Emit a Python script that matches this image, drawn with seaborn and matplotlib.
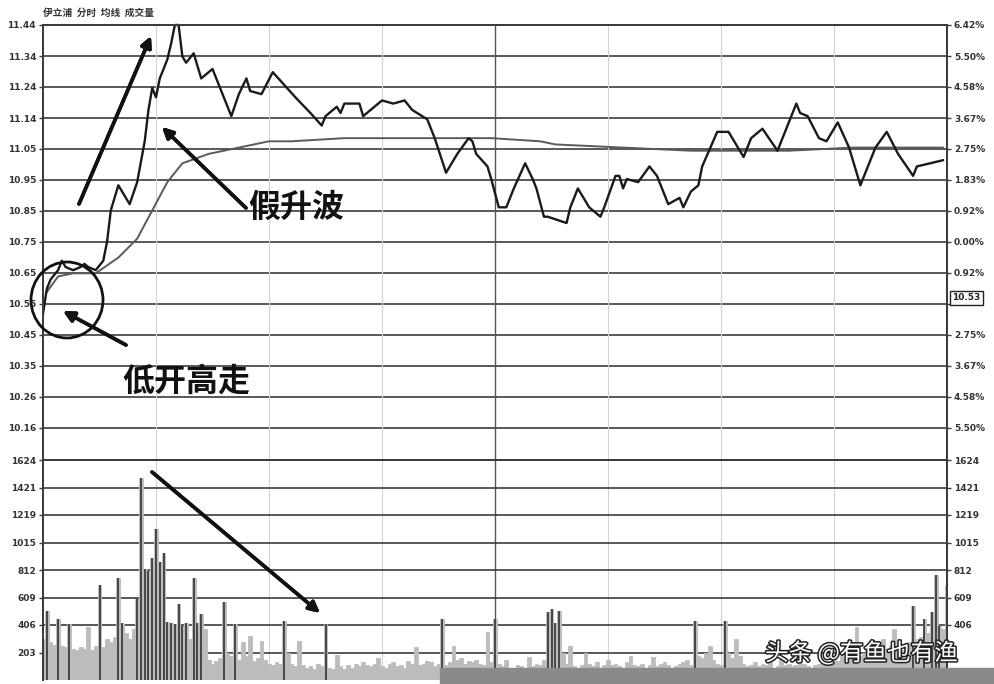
import matplotlib.pyplot as plt
import matplotlib.patheffects as pe
from matplotlib.patches import Ellipse, Rectangle
import numpy as np
import seaborn as sns

""" Data read off the intraday chart """
price_minutes = [0, 1, 2, 4, 5, 6, 8, 10, 11, 12, 14, 16, 17, 18, 20, 23, 25, 27, 28, 29,
                 30, 31, 33, 34, 35, 36, 37, 38, 40, 41, 42, 45, 47, 50, 52, 54, 55, 58, 61, 64,
                 67, 71, 74, 75, 78, 79, 80, 84, 85, 88, 90, 93, 96, 98, 102, 104, 107, 110, 113, 114,
                 115, 118, 119, 121, 123, 125, 128, 130, 131, 133, 134, 139, 140, 142, 145, 148, 149, 152, 153, 154,
                 155, 158, 161, 163, 166, 169, 170, 172, 174, 175, 179, 182, 186, 188, 191, 195, 200, 201, 203, 206,
                 208, 211, 214, 217, 219, 221, 224, 227, 231, 232, 239]
price_values = [10.52, 10.60, 10.63, 10.66, 10.69, 10.67, 10.66, 10.67, 10.68, 10.67,
                10.66, 10.69, 10.75, 10.85, 10.93, 10.87, 10.94, 11.07, 11.17, 11.24,
                11.21, 11.27, 11.33, 11.38, 11.44, 11.44, 11.34, 11.32, 11.35, 11.31,
                11.27, 11.30, 11.24, 11.15, 11.22, 11.27, 11.23, 11.22, 11.29, 11.25,
                11.21, 11.16, 11.12, 11.15, 11.18, 11.16, 11.19, 11.19, 11.15, 11.18,
                11.20, 11.19, 11.20, 11.17, 11.14, 11.08, 10.97, 11.03, 11.08, 11.07,
                11.03, 10.99, 10.95, 10.86, 10.86, 10.92, 11.00, 10.95, 10.92, 10.83,
                10.83, 10.81, 10.86, 10.92, 10.86, 10.83, 10.86, 10.96, 10.96, 10.92,
                10.95, 10.94, 10.99, 10.96, 10.87, 10.89, 10.86, 10.91, 10.93, 10.99,
                11.10, 11.10, 11.02, 11.08, 11.11, 11.04, 11.19, 11.16, 11.15, 11.08,
                11.07, 11.13, 11.05, 10.93, 10.99, 11.05, 11.10, 11.03, 10.96, 10.99,
                11.01]

avg_minutes = [1, 4, 8, 14, 20, 25, 29, 33, 37, 44, 52, 60, 66, 80, 93, 107, 119, 132, 136,
               154, 172, 198, 215, 224, 239]
avg_values = [10.59, 10.64, 10.65, 10.65, 10.70, 10.76, 10.85, 10.94, 11.00, 11.03, 11.05,
              11.07, 11.07, 11.08, 11.08, 11.08, 11.08, 11.07, 11.06, 11.05, 11.04, 11.04,
              11.05, 11.05, 11.05]

volume = [300, 511, 280, 260, 451, 250, 240, 414, 230, 220,
          240, 230, 390, 220, 250, 700, 240, 300, 280, 320,
          752, 420, 350, 300, 380, 600, 1489, 820, 805, 900,
          1113, 870, 940, 430, 420, 410, 564, 400, 420, 300,
          752, 420, 489, 380, 150, 120, 140, 160, 579, 200,
          180, 414, 150, 278, 180, 323, 140, 160, 286, 150,
          120, 110, 130, 120, 436, 203, 120, 100, 286, 110,
          90, 100, 80, 120, 100, 414, 90, 80, 188, 100,
          80, 110, 90, 120, 100, 130, 110, 100, 120, 165,
          100, 90, 120, 130, 100, 110, 90, 140, 120, 240,
          110, 120, 140, 130, 100, 120, 451, 110, 130, 248,
          150, 160, 120, 140, 130, 150, 120, 110, 353, 130,
          451, 120, 100, 150, 90, 80, 110, 100, 90, 170,
          100, 120, 110, 150, 500, 526, 420, 510, 200, 120,
          250, 100, 90, 110, 200, 120, 100, 130, 90, 110,
          150, 110, 120, 100, 90, 130, 180, 110, 100, 120,
          90, 110, 170, 100, 120, 130, 110, 90, 100, 120,
          130, 150, 110, 436, 180, 160, 200, 250, 150, 120,
          110, 436, 200, 160, 300, 180, 120, 100, 110, 130,
          100, 120, 110, 130, 90, 100, 160, 110, 120, 100,
          110, 130, 120, 100, 90, 110, 120, 140, 130, 120,
          150, 140, 180, 160, 200, 220, 390, 180, 200, 170,
          190, 210, 200, 300, 220, 250, 376, 240, 220, 260,
          280, 549, 300, 320, 451, 350, 504, 775, 400, 380, 700]

price_ticks = [11.440, 11.341, 11.243, 11.144, 11.046, 10.947, 10.849, 10.750,
               10.651, 10.553, 10.454, 10.356, 10.257, 10.158]
price_labels = ["11.44", "11.34", "11.24", "11.14", "11.05", "10.95", "10.85", "10.75",
                "10.65", "10.55", "10.45", "10.35", "10.26", "10.16"]
pct_labels = ["6.42%", "5.50%", "4.58%", "3.67%", "2.75%", "1.83%", "0.92%", "0.00%",
              "0.92%", "", "2.75%", "3.67%", "4.58%", "5.50%"]
vol_ticks = [1624, 1421, 1218, 1015, 812, 609, 406, 203]
vol_labels = ["1624", "1421", "1219", "1015", "812", "609", "406", "203"]

title_text = "伊立浦  分时  均线  成交量"
note_fake = "假升波"
note_open = "低开高走"
watermark = "头条 @有鱼也有渔"
last_box = "10.53"

""" Style """
sns.set_theme(style="white")
plt.rcParams["font.family"] = ["Noto Sans CJK SC", "DejaVu Sans"]
W, H = 994, 684
ink = "#1a1a1a"
grid_color = "#3c3c3c"
tick_font = {"family": "DejaVu Sans", "size": 6.5, "weight": "bold", "color": "#333333"}

fig = plt.figure(figsize=(W / 100, H / 100), dpi=100)
fig.patch.set_facecolor("white")
left, right = 43 / W, 947 / W
ax_p = fig.add_axes([left, 1 - 460 / H, right - left, (460 - 25) / H])
ax_v = fig.add_axes([left, 1 - 680 / H, right - left, (680 - 460) / H])

# Price panel
ax_p.set_xlim(0, 240)
ax_p.set_ylim(10.056, 11.44)
for t in price_ticks:
    ax_p.axhline(t, color=grid_color, lw=1.2, zorder=1)
for m in [30, 60, 90, 150, 180, 210]:
    ax_p.axvline(m, color="#d2d2d2", lw=0.8, zorder=1)
    ax_v.axvline(m, color="#d2d2d2", lw=0.8, zorder=1)
ax_p.axvline(120, color="#555555", lw=1.0, zorder=1)
ax_v.axvline(120, color="#555555", lw=1.0, zorder=1)

sns.lineplot(x=avg_minutes, y=avg_values, ax=ax_p, color="#5a5a5a", lw=1.4,
             estimator=None, sort=False, zorder=3)
sns.lineplot(x=price_minutes, y=price_values, ax=ax_p, color=ink, lw=1.7,
             estimator=None, sort=False, zorder=4)
for line in ax_p.lines:
    line.set_clip_on(False)

ax_p.set_yticks(price_ticks)
ax_p.set_yticklabels(price_labels, fontdict=tick_font)
ax_p.set_xticks([])
ax_p.set(xlabel="", ylabel="")
ax_p2 = ax_p.twinx()
ax_p2.set_ylim(ax_p.get_ylim())
ax_p2.set_yticks(price_ticks)
ax_p2.set_yticklabels(pct_labels, fontdict=tick_font)

# Volume panel
ax_v.set_xlim(0, 240)
ax_v.set_ylim(0, 1624)
for t in vol_ticks:
    ax_v.axhline(t, color=grid_color, lw=1.2, zorder=1)
minutes = np.arange(len(volume))
sns.barplot(x=minutes, y=volume, ax=ax_v, native_scale=True, color="#bcbcbc",
            width=1.0, errorbar=None, saturation=1, zorder=2,
            edgecolor="#bcbcbc", linewidth=0.6)
vol = np.array(volume)
dark = vol >= 400
ax_v.vlines(minutes[dark], 0, vol[dark], color="#262626", lw=1.1, zorder=3)
ax_v.set_xlim(0, 240)
ax_v.set_xticks([])
ax_v.set(xlabel="", ylabel="")
ax_v.set_yticks(vol_ticks)
ax_v.set_yticklabels(vol_labels, fontdict=tick_font)
ax_v2 = ax_v.twinx()
ax_v2.set_ylim(0, 1624)
ax_v2.set_yticks(vol_ticks[:-1])
ax_v2.set_yticklabels(vol_labels[:-1], fontdict=tick_font)

for ax in [ax_p, ax_p2, ax_v, ax_v2]:
    ax.set_facecolor("none")
    ax.tick_params(axis="y", length=3, width=1, color=grid_color, pad=2)
    for side in ["left", "right", "top", "bottom"]:
        ax.spines[side].set_color(grid_color)
        ax.spines[side].set_linewidth(1.4)
    ax.spines["bottom"].set_visible(False)

# Annotations drawn in image pixel coordinates (origin top-left)
def fpx(x, y):
    return (x, H - y)

arrow = dict(arrowstyle="-|>", lw=2.6, color="#111111", mutation_scale=16,
             shrinkA=0, shrinkB=0)
for tail, head in [((79, 204), (151, 36)), ((246, 208), (162, 127)),
                   ((126, 345), (63, 311)), ((152, 472), (320, 613))]:
    fig.add_artist(plt.annotate("", xy=fpx(*head), xytext=fpx(*tail),
                                xycoords="figure pixels", textcoords="figure pixels",
                                arrowprops=arrow))

fig.add_artist(Ellipse((67 / W, 1 - 300 / H), 72 / W, 76 / H, transform=fig.transFigure,
                       fill=False, lw=2.0, color="#111111"))

fig.text(248 / W, 1 - 208 / H, note_fake, fontsize=23, fontweight="bold", color="#111111",
         va="center", ha="left")
fig.text(122 / W, 1 - 382 / H, note_open, fontsize=23, fontweight="bold", color="#111111",
         va="center", ha="left")
fig.text(43 / W, 1 - 13 / H, title_text, fontsize=7, fontweight="bold", color="#333333",
         va="center", ha="left")

fig.text(952 / W, 1 - 298 / H, last_box, fontsize=6.5, fontweight="bold", color="#222222",
         family="DejaVu Sans", va="center", ha="left",
         bbox=dict(boxstyle="square,pad=0.25", fc="white", ec="#222222", lw=1))

fig.add_artist(Rectangle((440 / W, 0), (W - 440) / W, 16 / H, transform=fig.transFigure,
                         color="#8a8a8a", zorder=10))
fig.text(765 / W, 1 - 653 / H, watermark, fontsize=17, color="white", va="center",
         ha="left", zorder=11,
         path_effects=[pe.Stroke(linewidth=2.2, foreground="#222222"), pe.Normal()])

plt.savefig("out.png", dpi=100)
